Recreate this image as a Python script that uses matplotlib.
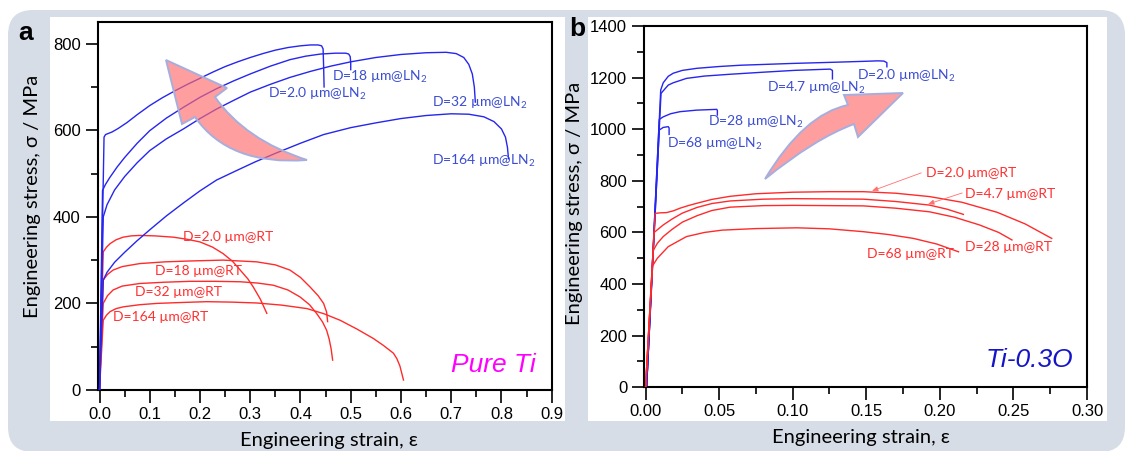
import matplotlib
matplotlib.use("Agg")
import matplotlib.pyplot as plt
from matplotlib.patches import FancyBboxPatch, Rectangle, PathPatch
from matplotlib.path import Path
from matplotlib.ticker import MultipleLocator

# ---------------- data: panel a (Pure Ti) ----------------
a_ln_d20_x = [0.0, 0.009, 0.012, 0.025, 0.037, 0.055, 0.075, 0.1, 0.125, 0.15, 0.175, 0.2, 0.225, 0.25,
              0.275, 0.3, 0.325, 0.35, 0.375, 0.4, 0.42, 0.435, 0.442, 0.445, 0.446, 0.447]
a_ln_d20_y = [0, 584, 590, 596, 604, 618, 636, 657, 675, 691, 706, 720, 734, 747,
              758, 768, 777, 785, 791, 795, 797, 797, 795, 788, 750, 700]
a_ln_d18_x = [0.0, 0.006, 0.012, 0.02, 0.035, 0.05, 0.075, 0.1, 0.133, 0.167, 0.2, 0.233, 0.267, 0.3,
              0.34, 0.379, 0.41, 0.44, 0.47, 0.49, 0.496, 0.499, 0.5, 0.5]
a_ln_d18_y = [0, 461, 475, 490, 515, 537, 570, 599, 628, 653, 676, 696, 714, 730,
              748, 763, 771, 776, 778, 778, 776, 770, 755, 740]
a_ln_d32_x = [0.0, 0.0075, 0.015, 0.03, 0.05, 0.075, 0.1, 0.133, 0.167, 0.2, 0.233, 0.267, 0.3, 0.34,
              0.379, 0.42, 0.46, 0.5, 0.55, 0.6, 0.65, 0.69, 0.71, 0.725, 0.735, 0.742, 0.746, 0.748]
a_ln_d32_y = [0, 400, 428, 462, 493, 525, 553, 580, 603, 627, 649, 669, 688, 706,
              722, 736, 748, 758, 768, 775, 779, 780, 777, 768, 752, 730, 700, 665]
a_ln_d164_x = [0.0, 0.0075, 0.015, 0.03, 0.05, 0.075, 0.1, 0.133, 0.167, 0.2, 0.233, 0.273, 0.31, 0.353,
               0.4, 0.446, 0.5, 0.55, 0.6, 0.65, 0.7, 0.735, 0.765, 0.785, 0.8, 0.808, 0.812, 0.814]
a_ln_d164_y = [0, 254, 272, 295, 318, 345, 370, 402, 432, 460, 485, 507, 527, 548,
               570, 590, 606, 617, 627, 634, 638, 637, 631, 620, 603, 584, 560, 534]

a_rt_d20_x = [0.0, 0.0074, 0.014, 0.021, 0.033, 0.047, 0.063, 0.08, 0.11, 0.147, 0.175, 0.2, 0.225,
              0.246, 0.265, 0.28, 0.295, 0.306, 0.32, 0.333]
a_rt_d20_y = [0, 319, 330, 338, 347, 353, 356, 357, 356, 353, 348, 342, 330,
              315, 297, 277, 257, 238, 210, 177]
a_rt_d18_x = [0.0, 0.0074, 0.016, 0.027, 0.045, 0.08, 0.13, 0.18, 0.246, 0.313, 0.35, 0.379, 0.4,
              0.419, 0.435, 0.446, 0.452, 0.454]
a_rt_d18_y = [0, 254, 267, 277, 285, 292, 296, 298, 300, 296, 289, 277, 260,
              238, 218, 200, 180, 158]
a_rt_d32_x = [0.0, 0.0074, 0.016, 0.027, 0.045, 0.08, 0.13, 0.18, 0.23, 0.28, 0.315, 0.346, 0.375,
              0.399, 0.418, 0.432, 0.444, 0.452, 0.457, 0.461, 0.464]
a_rt_d32_y = [0, 200, 218, 231, 240, 246, 249, 251, 251, 250, 247, 242, 231,
              215, 197, 177, 157, 138, 118, 95, 69]
a_rt_d164_x = [0.0, 0.0074, 0.014, 0.021, 0.033, 0.047, 0.08, 0.114, 0.16, 0.213, 0.263, 0.313, 0.363,
               0.413, 0.447, 0.479, 0.512, 0.545, 0.565, 0.585, 0.592, 0.598, 0.605]
a_rt_d164_y = [0, 161, 173, 181, 188, 192, 197, 200, 202, 204, 203, 201, 196,
               188, 176, 161, 141, 119, 103, 85, 72, 55, 23]

# ---------------- data: panel b (Ti-0.3O) ----------------
b_ln_d20_x = [0.0007, 0.0103, 0.012, 0.0154, 0.0188, 0.025, 0.0348, 0.05, 0.0646, 0.08, 0.1, 0.125,
              0.148, 0.158, 0.162, 0.164, 0.164]
b_ln_d20_y = [0, 1152, 1180, 1205, 1217, 1228, 1236, 1243, 1248, 1251, 1255, 1259,
              1263, 1265, 1264, 1258, 1242]
b_ln_d47_x = [0.0007, 0.0105, 0.0154, 0.0188, 0.0278, 0.04, 0.0574, 0.08, 0.101, 0.1255, 0.127, 0.127]
b_ln_d47_y = [0, 1139, 1171, 1180, 1197, 1206, 1213, 1221, 1228, 1233, 1228, 1195]
b_ln_d28_x = [0.0007, 0.0093, 0.012, 0.017, 0.0234, 0.0348, 0.0484, 0.0488, 0.0488]
b_ln_d28_y = [0, 1038, 1048, 1060, 1068, 1074, 1077, 1072, 1055]
b_ln_d68_x = [0.0007, 0.0093, 0.012, 0.0154, 0.016, 0.016]
b_ln_d68_y = [0, 997, 1007, 1010, 1005, 980]

b_rt_d20_x = [0.0, 0.0065, 0.010, 0.0143, 0.019, 0.0234, 0.029, 0.0348, 0.045, 0.0574, 0.075, 0.1,
              0.125, 0.148, 0.17, 0.193, 0.215, 0.239, 0.258, 0.276]
b_rt_d20_y = [0, 674, 676, 677, 684, 694, 704, 713, 728, 740, 750, 756,
              758, 758, 752, 739, 717, 678, 633, 577]
b_rt_d47_x = [0.0, 0.0058, 0.009, 0.012, 0.018, 0.025, 0.035, 0.045, 0.0574, 0.08, 0.1, 0.148,
              0.17, 0.193, 0.205, 0.216]
b_rt_d47_y = [0, 600, 615, 629, 652, 675, 697, 712, 722, 729, 731, 729,
              720, 706, 690, 670]
b_rt_d28_x = [0.0, 0.0052, 0.008, 0.012, 0.018, 0.025, 0.035, 0.045, 0.0574, 0.08, 0.1, 0.148,
              0.17, 0.193, 0.21, 0.227, 0.24, 0.249]
b_rt_d28_y = [0, 530, 558, 584, 612, 640, 665, 685, 698, 704, 705, 703,
              694, 680, 659, 629, 600, 571]
b_rt_d68_x = [0.0, 0.0047, 0.008, 0.0154, 0.0278, 0.04, 0.052, 0.075, 0.103, 0.125, 0.148, 0.165,
              0.182, 0.198, 0.2127]
b_rt_d68_y = [0, 470, 500, 545, 584, 600, 609, 615, 618, 614, 603, 592,
              577, 555, 525]

a_labels_ln = ["D=18 µm@LN$_2$", "D=2.0 µm@LN$_2$", "D=32 µm@LN$_2$", "D=164 µm@LN$_2$"]
a_labels_rt = ["D=2.0 µm@RT", "D=18 µm@RT", "D=32 µm@RT", "D=164 µm@RT"]
b_labels_ln = ["D=2.0 µm@LN$_2$", "D=4.7 µm@LN$_2$", "D=28 µm@LN$_2$", "D=68 µm@LN$_2$"]
b_labels_rt = ["D=2.0 µm@RT", "D=4.7 µm@RT", "D=28 µm@RT", "D=68 µm@RT"]

# ---------------- style ----------------
plt.rcParams['font.family'] = ['Liberation Sans', 'DejaVu Sans']
plt.rcParams['mathtext.fontset'] = 'custom'
plt.rcParams['mathtext.rm'] = 'Lato'
plt.rcParams['mathtext.it'] = 'Lato:italic'
plt.rcParams['mathtext.bf'] = 'Lato:bold'

BLUE = '#2626ee'
RED = '#ff2b2b'
BLUE_T = '#3a4cd2'
RED_T = '#ff3030'
GREY = '#d6dde7'
LAB = ['Lato', 'DejaVu Sans']

W, H = 1126, 451
fig = plt.figure(figsize=(W / 100, H / 100), dpi=100)

def px(x, y):
    return (x / 100.0, (H - y) / 100.0)

# backgrounds
fig.patches.append(FancyBboxPatch(px(8, 452), (1125 - 8) / 100, (452 - 10) / 100,
                                  boxstyle="round,pad=0,rounding_size=0.25",
                                  transform=fig.dpi_scale_trans, fc=GREY, ec='none', zorder=-10))
for x0, x1 in [(50, 565), (588, 1107)]:
    fig.patches.append(Rectangle(px(x0, 421), (x1 - x0) / 100, (421 - 17) / 100,
                                 transform=fig.dpi_scale_trans, fc='white', ec='none', zorder=-9))

axa = fig.add_axes([97.5 / W, (H - 390) / H, 454.2 / W, 368 / H])
axb = fig.add_axes([643.8 / W, (H - 387.3) / H, 443.2 / W, 361.3 / H])

for ax in (axa, axb):
    ax.set_facecolor('white')
    for s in ax.spines.values():
        s.set_linewidth(1.5)
    ax.tick_params(which='major', direction='out', length=9, width=1.2, labelsize=12, pad=3,
                   top=False, right=False)
    ax.tick_params(which='minor', direction='out', length=5, width=1.2, top=False, right=False)

# ---- panel a ----
lw = 1.0
for xs, ys in [(a_ln_d20_x, a_ln_d20_y), (a_ln_d18_x, a_ln_d18_y),
               (a_ln_d32_x, a_ln_d32_y), (a_ln_d164_x, a_ln_d164_y)]:
    axa.plot(xs, ys, color=BLUE, lw=lw, zorder=3, solid_joinstyle='round')
for xs, ys in [(a_rt_d20_x, a_rt_d20_y), (a_rt_d18_x, a_rt_d18_y),
               (a_rt_d32_x, a_rt_d32_y), (a_rt_d164_x, a_rt_d164_y)]:
    axa.plot(xs, ys, color=RED, lw=lw, zorder=2, solid_joinstyle='round')

axa.set_xlim(-0.004, 0.9)
axa.set_ylim(0, 850)
axa.xaxis.set_major_locator(MultipleLocator(0.1))
axa.xaxis.set_minor_locator(MultipleLocator(0.05))
axa.yaxis.set_major_locator(MultipleLocator(200))
axa.yaxis.set_minor_locator(MultipleLocator(100))
axa.set_xticks([i / 10 for i in range(10)])
axa.set_xticklabels([f"{i / 10:.1f}" for i in range(10)])

for (tx, ty), s in zip([(0.463, 722), (0.335, 684), (0.662, 663), (0.662, 529)], a_labels_ln):
    axa.text(tx, ty, s, color=BLUE_T, fontsize=10, family=LAB, va='center', ha='left', zorder=6)
for (tx, ty), s in zip([(0.166, 353), (0.110, 274), (0.0705, 226), (0.0267, 169)], a_labels_rt):
    axa.text(tx, ty, s, color=RED_T, fontsize=10, family=LAB, va='center', ha='left', zorder=6)
axa.text(0.868, 58, "Pure Ti", color='#ff00ff', fontsize=19, style='italic', ha='right', va='center')

axa.set_xlabel("Engineering strain, ε", family=LAB, fontsize=14.5)
axa.set_ylabel("Engineering stress, σ / MPa", family=LAB, fontsize=14.5)
axa.xaxis.set_label_coords(0.51, -0.136)
axa.yaxis.set_label_coords(-0.144, 0.527)
axa.xaxis.label.set_va('center')
axa.yaxis.label.set_va('center')

# ---- panel b ----
for xs, ys in [(b_rt_d20_x, b_rt_d20_y), (b_rt_d47_x, b_rt_d47_y),
               (b_rt_d28_x, b_rt_d28_y), (b_rt_d68_x, b_rt_d68_y)]:
    axb.plot(xs, ys, color=RED, lw=lw, zorder=3, solid_joinstyle='round')
for xs, ys in [(b_ln_d20_x, b_ln_d20_y), (b_ln_d47_x, b_ln_d47_y),
               (b_ln_d28_x, b_ln_d28_y), (b_ln_d68_x, b_ln_d68_y)]:
    axb.plot(xs, ys, color=BLUE, lw=lw, zorder=2, solid_joinstyle='round')

axb.set_xlim(-0.0012, 0.30)
axb.set_ylim(0, 1400)
axb.xaxis.set_minor_locator(MultipleLocator(0.025))
axb.yaxis.set_major_locator(MultipleLocator(200))
axb.yaxis.set_minor_locator(MultipleLocator(100))
axb.set_xticks([i * 0.05 for i in range(7)])
axb.set_xticklabels([f"{i * 0.05:.2f}" for i in range(7)])

for (tx, ty), s in zip([(0.1438, 1206), (0.0826, 1160), (0.0424, 1028), (0.0146, 943)], b_labels_ln):
    axb.text(tx, ty, s, color=BLUE_T, fontsize=10, family=LAB, va='center', ha='left', zorder=6)
for (tx, ty), s in zip([(0.1907, 832), (0.2173, 749), (0.2173, 544), (0.1506, 517)], b_labels_rt):
    axb.text(tx, ty, s, color=RED_T, fontsize=10, family=LAB, va='center', ha='left', zorder=6)
for (x0, y0), (x1, y1) in [((0.1874, 831), (0.1539, 761)), ((0.2152, 753), (0.192, 710))]:
    axb.annotate("", xy=(x1, y1), xytext=(x0, y0),
                 arrowprops=dict(arrowstyle='-|>,head_length=0.35,head_width=0.15',
                                 color='#ff7070', lw=0.6, shrinkA=0, shrinkB=0), zorder=6)
axb.text(0.2908, 106, "Ti-0.3O", color='#1515c8', fontsize=19, style='italic', ha='right', va='center')

axb.set_xlabel("Engineering strain, ε", family=LAB, fontsize=14.5)
axb.set_ylabel("Engineering stress, σ / MPa", family=LAB, fontsize=14.5)
axb.xaxis.set_label_coords(0.49, -0.1376)
axb.yaxis.set_label_coords(-0.156, 0.51)
axb.xaxis.label.set_va('center')
axb.yaxis.label.set_va('center')

# ---- curved block arrows (decoration) ----
def block_arrow(pts):
    tip, w1, n1, c1, tail, c2, n2, w2 = [px(*p) for p in pts]
    verts = [tip, w1, n1, c1, tail, c2, n2, w2, tip]
    codes = [Path.MOVETO, Path.LINETO, Path.LINETO, Path.CURVE3, Path.CURVE3,
             Path.CURVE3, Path.CURVE3, Path.LINETO, Path.CLOSEPOLY]
    fig.patches.append(PathPatch(Path(verts, codes), transform=fig.dpi_scale_trans,
                                 fc=(1.0, 0.42, 0.42, 0.65), ec='#a6aede', lw=1.4, zorder=5))

block_arrow([(166, 60), (227, 88), (215, 97), (245, 140), (307, 160), (229, 166), (195, 117), (182, 124)])
block_arrow([(903, 93), (844, 95), (848, 105), (804, 114), (765, 179), (814, 139), (854, 124), (858, 137)])

# panel letters
fig.text(25.5 / W, (H - 33) / H, "a", fontsize=19, fontweight='bold', ha='center', va='center')
fig.text(577.5 / W, (H - 29) / H, "b", fontsize=19, fontweight='bold', ha='center', va='center')

fig.savefig("out.png", dpi=100)
